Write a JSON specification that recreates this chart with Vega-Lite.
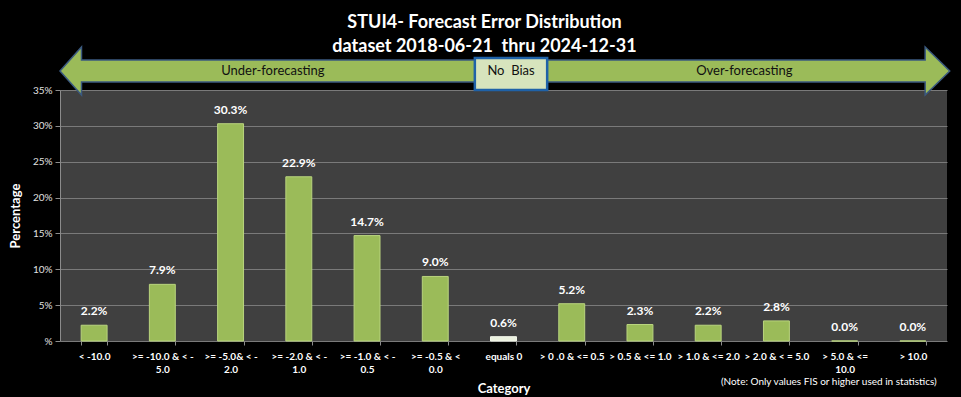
{
  "$schema": "https://vega.github.io/schema/vega-lite/v6.json",
  "width": 887,
  "height": 251,
  "autosize": {"type": "none"},
  "padding": {"left": 60, "top": 90, "right": 14, "bottom": 56},
  "background": "black",
  "config": {
    "view": {"fill": "#404040", "stroke": null},
    "font": "Lato",
    "title": {"color": "white", "font": "Lato", "fontSize": 18, "fontWeight": "bold", "lineHeight": 24, "anchor": "middle", "offset": -12, "dx": -19}
  },
  "title": {"text": ["STUI4- Forecast Error Distribution", "dataset 2018-06-21 \u00a0thru 2024-12-31"]},
  "datasets": {
    "bars": [
      {"category": "< -10.0", "pct": 2.2},
      {"category": ">= -10.0 & < -5.0", "pct": 7.9},
      {"category": ">= -5.0& < -2.0", "pct": 30.3},
      {"category": ">= -2.0 & < -1.0", "pct": 22.9},
      {"category": ">= -1.0 & < -0.5", "pct": 14.7},
      {"category": ">= -0.5 & < 0.0", "pct": 9.0},
      {"category": "equals 0", "pct": 0.6},
      {"category": "> 0 .0 & <= 0.5", "pct": 5.2},
      {"category": "> 0.5 & <= 1.0", "pct": 2.3},
      {"category": "> 1.0 & <= 2.0", "pct": 2.2},
      {"category": "> 2.0 & < = 5.0", "pct": 2.8},
      {"category": "> 5.0 & <= 10.0", "pct": 0.0},
      {"category": "> 10.0", "pct": 0.0}
    ],
    "arrow": [
      {"ax": 0, "lo": 37.65, "hi": 37.65},
      {"ax": 0.315, "lo": 34.3, "hi": 41.0},
      {"ax": 0.3151, "lo": 36.1, "hi": 39.2},
      {"ax": 12.6799, "lo": 36.1, "hi": 39.2},
      {"ax": 12.68, "lo": 34.3, "hi": 41.0},
      {"ax": 13.04, "lo": 37.65, "hi": 37.65}
    ],
    "bias": [{"x1": 6.08, "x2": 7.14, "y1": 35.0, "y2": 39.46}],
    "labels": [
      {"lx": 3.12, "ly": 37.65, "label": "Under-forecasting"},
      {"lx": 6.61, "ly": 37.65, "label": "No \u00a0Bias"},
      {"lx": 10.03, "ly": 37.65, "label": "Over-forecasting"}
    ],
    "note": [{"nx": 12.85, "ny": -5.7, "text": "(Note: Only values FIS or higher used in statistics)"}]
  },
  "layer": [
    {
      "data": {"name": "bars"},
      "mark": {"type": "bar", "strokeWidth": 1},
      "encoding": {
        "x": {
          "field": "category", "type": "nominal", "sort": null,
          "scale": {"paddingInner": 0.62, "paddingOuter": 0.31},
          "axis": {
            "title": "Category", "titleColor": "white", "titleFontSize": 13, "titleFontWeight": "bold", "titlePadding": 8,
            "labelAngle": 0, "labelColor": "white", "labelFontSize": 10, "labelFontWeight": "bold", "labelLineHeight": 13, "labelPadding": 6,
            "labelExpr": "datum.value == '>= -10.0 & < -5.0' ? ['>= -10.0 & < -', '5.0'] : datum.value == '>= -5.0& < -2.0' ? ['>= -5.0& < -', '2.0'] : datum.value == '>= -2.0 & < -1.0' ? ['>= -2.0 & < -', '1.0'] : datum.value == '>= -1.0 & < -0.5' ? ['>= -1.0 & < -', '0.5'] : datum.value == '>= -0.5 & < 0.0' ? ['>= -0.5 & <', '0.0'] : datum.value == '> 5.0 & <= 10.0' ? ['> 5.0 & <=', '10.0'] : datum.value",
            "labelLimit": 200,
            "tickBand": "extent", "tickColor": "#8c8c8c", "tickSize": 4,
            "domain": false
          }
        },
        "y": {
          "field": "pct", "type": "quantitative",
          "scale": {"domain": [0, 35], "nice": false},
          "axis": {
            "title": "Percentage", "titleColor": "white", "titleFontSize": 13, "titleFontWeight": "bold", "titlePadding": 10,
            "values": [0, 5, 10, 15, 20, 25, 30, 35],
            "labelExpr": "datum.value == 0 ? '%' : datum.value + '%'",
            "labelColor": "#e0e0e0", "labelFontSize": 10, "labelPadding": 3,
            "tickColor": "#8c8c8c", "tickSize": 5,
            "domainColor": "#8c8c8c",
            "grid": true, "gridColor": "#7a7a7a", "gridWidth": 1
          }
        },
        "fill": {
          "condition": {"test": "datum.category == 'equals 0'", "value": "#ebf1de"},
          "value": "#9bbb59"
        },
        "stroke": {
          "condition": {"test": "datum.category == 'equals 0'", "value": "#f5f9ec"},
          "value": "#b9d47e"
        }
      }
    },
    {
      "data": {"name": "bars"},
      "transform": [{"calculate": "format(datum.pct, '.1f') + '%'", "as": "label"}],
      "mark": {"type": "text", "color": "white", "fontSize": 12, "fontWeight": "bold", "baseline": "bottom", "dy": -7},
      "encoding": {
        "x": {"field": "category", "type": "nominal", "sort": null, "scale": {"paddingInner": 0.62, "paddingOuter": 0.31}, "axis": null},
        "y": {"field": "pct", "type": "quantitative", "scale": {"domain": [0, 35], "nice": false}, "axis": null},
        "text": {"field": "label"}
      }
    },
    {
      "data": {"name": "arrow"},
      "mark": {"type": "area", "fill": "#9bbb59", "stroke": "#3b5a80", "strokeWidth": 1.5, "interpolate": "linear", "opacity": 1},
      "encoding": {
        "x": {"field": "ax", "type": "quantitative", "scale": {"domain": [0, 13], "nice": false, "zero": false}, "axis": null},
        "y": {"field": "lo", "type": "quantitative", "scale": {"domain": [0, 35], "nice": false}, "axis": null},
        "y2": {"field": "hi"}
      }
    },
    {
      "data": {"name": "bias"},
      "mark": {"type": "rect", "fill": "#d7e4bd", "stroke": "#1f62a8", "strokeWidth": 2.5},
      "encoding": {
        "x": {"field": "x1", "type": "quantitative", "scale": {"domain": [0, 13], "nice": false, "zero": false}, "axis": null},
        "x2": {"field": "x2"},
        "y": {"field": "y1", "type": "quantitative", "scale": {"domain": [0, 35], "nice": false}, "axis": null},
        "y2": {"field": "y2"}
      }
    },
    {
      "data": {"name": "labels"},
      "mark": {"type": "text", "color": "#111111", "fontSize": 13, "baseline": "middle", "align": "center"},
      "encoding": {
        "x": {"field": "lx", "type": "quantitative", "scale": {"domain": [0, 13], "nice": false, "zero": false}, "axis": null},
        "y": {"field": "ly", "type": "quantitative", "scale": {"domain": [0, 35], "nice": false}, "axis": null},
        "text": {"field": "label"}
      }
    },
    {
      "data": {"name": "note"},
      "mark": {"type": "text", "color": "white", "fontSize": 10, "baseline": "middle", "align": "right"},
      "encoding": {
        "x": {"field": "nx", "type": "quantitative", "scale": {"domain": [0, 13], "nice": false, "zero": false}, "axis": null},
        "y": {"field": "ny", "type": "quantitative", "scale": {"domain": [0, 35], "nice": false}, "axis": null},
        "text": {"field": "text"}
      }
    }
  ],
  "resolve": {"scale": {"x": "independent", "y": "independent"}, "axis": {"x": "independent", "y": "independent"}}
}
